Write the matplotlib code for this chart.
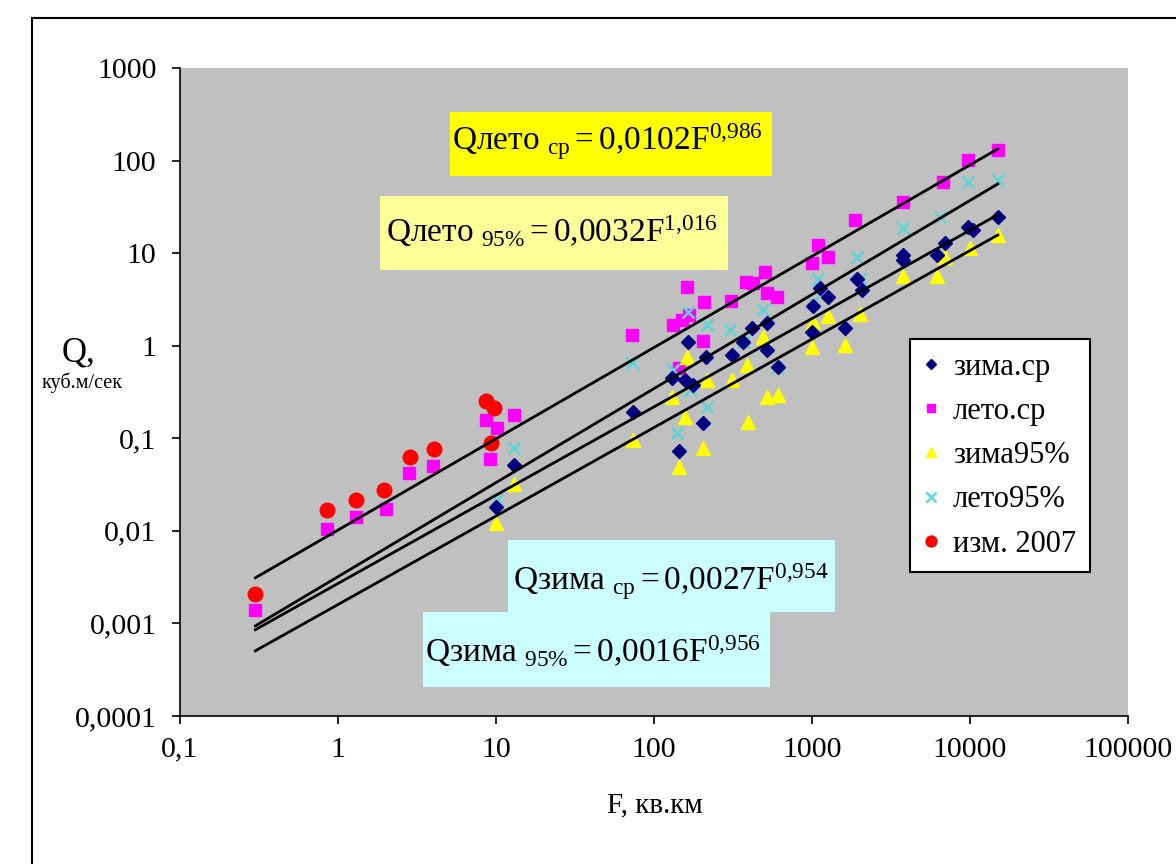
import matplotlib
matplotlib.use('Agg')
import matplotlib.pyplot as plt
from matplotlib.patches import Rectangle

plt.rcParams['font.family'] = ['Liberation Serif', 'DejaVu Serif']
plt.rcParams['mathtext.fontset'] = 'custom'
plt.rcParams['mathtext.rm'] = 'Liberation Serif'
plt.rcParams['mathtext.it'] = 'Liberation Serif:italic'

# data
zima_sr_F = [10, 13, 73.7, 164, 213, 312, 130, 157, 177, 204, 144, 366, 417, 519, 519, 609,
             1000, 1015, 1124, 1262, 1617, 1928, 2071, 3767, 3767, 6180, 6950, 9707, 10450, 15000]
zima_sr_Q = [0.018, 0.052, 0.19, 1.1, 0.76, 0.80, 0.45, 0.43, 0.38, 0.147, 0.072, 1.1, 1.56, 1.77, 0.91, 0.59,
             1.4, 2.7, 4.2, 3.4, 1.56, 5.2, 4.0, 9.6, 8.5, 9.6, 12.9, 19.3, 17.9, 24.7]

leto_sr_F = [0.3, 0.85, 1.3, 2.0, 2.8, 4.0, 8.6, 10.1, 9.2, 13, 72.6, 162, 207, 167, 132, 150, 204, 144,
             307, 382, 519, 600, 505, 423, 1000, 1091, 1262, 1872, 3767, 6750, 9707, 15000]
leto_sr_Q = [0.0014, 0.0105, 0.0142, 0.0174, 0.0425, 0.05, 0.159, 0.13, 0.06, 0.18, 1.31, 4.3, 3.0, 2.16, 1.69, 1.91, 1.13, 0.58,
             3.06, 4.9, 3.7, 3.4, 6.3, 4.8, 7.9, 12.3, 9.1, 22.9, 35.9, 59, 102, 131]

zima95_F = [10, 13, 73.7, 204, 144, 394, 519, 609, 157, 130, 216, 312, 388, 490, 162,
            1000, 1015, 1262, 1617, 2014, 3767, 6180, 6950, 10000, 15000]
zima95_Q = [0.0123, 0.032, 0.097, 0.079, 0.049, 0.151, 0.28, 0.296, 0.17, 0.28, 0.43, 0.43, 0.62, 1.25, 0.76,
            0.98, 1.8, 2.1, 1.03, 2.2, 5.6, 5.6, 9.1, 11.4, 15.8]

leto95_F = [10.1, 13, 72.6, 164, 216, 303, 132, 140, 216, 490, 600, 366, 1015, 169,
            1091, 1928, 2014, 3767, 6456, 9707, 15000]
leto95_Q = [0.0217, 0.079, 0.655, 2.33, 1.69, 1.49, 0.55, 0.115, 0.22, 2.45, 0.58, 1.1, 3.0, 0.335,
            5.2, 9.1, 5.2, 18.8, 24.7, 59, 62]

izm_F = [0.3, 0.85, 1.3, 1.95, 2.86, 4.05, 8.6, 9.7, 9.3]
izm_Q = [0.0021, 0.0166, 0.0217, 0.0279, 0.063, 0.077, 0.25, 0.214, 0.09]

# trend lines Q = a*F^b, from the equations on the chart
fit_a = [0.0102, 0.0032, 0.0027, 0.0016]
fit_b = [0.986, 1.016, 0.954, 0.956]
fit_F = [0.3, 15000]

xticks = [0.1, 1, 10, 100, 1000, 10000, 100000]
xlabels = ['0,1', '1', '10', '100', '1000', '10000', '100000']
yticks = [0.0001, 0.001, 0.01, 0.1, 1, 10, 100, 1000]
ylabels = ['0,0001', '0,001', '0,01', '0,1', '1', '10', '100', '1000']

fig = plt.figure(figsize=(11.76, 8.64), dpi=100)
ax = fig.add_axes([180/1176, 148/864, 948/1176, 648/864])
ax.set_facecolor('#C0C0C0')

ax.plot(zima_sr_F, zima_sr_Q, 'D', color='#000080', ms=7, ls='none', label='зима.ср', zorder=3)
ax.plot(leto_sr_F, leto_sr_Q, 's', color='#FF00FF', ms=8.5, ls='none', label='лето.ср', zorder=2)
ax.plot(zima95_F, zima95_Q, '^', color='#FFFF00', ms=9.5, ls='none', label='зима95%', zorder=2)
ax.plot(leto95_F, leto95_Q, 'x', color='#5CD6D6', ms=9, mew=1.8, ls='none', label='лето95%', zorder=2)
ax.plot(izm_F, izm_Q, 'o', color='#FF0000', ms=10.5, ls='none', label='изм. 2007', zorder=4)

for a, b in zip(fit_a, fit_b):
    ax.plot(fit_F, [a * f ** b for f in fit_F], color='black', lw=2, zorder=5)

ax.set_xscale('log')
ax.set_yscale('log')
ax.set_xlim(0.1, 100000)
ax.set_ylim(0.0001, 1000)
ax.set_xticks(xticks)
ax.set_xticklabels(xlabels)
ax.set_yticks(yticks)
ax.set_yticklabels(ylabels)
ax.minorticks_off()
ax.tick_params(axis='both', direction='out', length=6, width=1.2, labelsize=21.5)
ax.tick_params(axis='y', pad=11)
ax.tick_params(axis='x', pad=9)
ax.spines['top'].set_visible(False)
ax.spines['right'].set_visible(False)
for s in ['left', 'bottom']:
    ax.spines[s].set_linewidth(1.2)

# equation boxes
boxes = [((0.285, 0.833), 0.339, 0.099, '#FFFF00'),
         ((0.211, 0.688), 0.367, 0.114, '#FFFF99'),
         ((0.346, 0.160), 0.345, 0.112, '#CCFFFF'),
         ((0.256, 0.045), 0.366, 0.115, '#CCFFFF')]
for xy, w, h, c in boxes:
    ax.add_patch(Rectangle(xy, w, h, transform=ax.transAxes, facecolor=c,
                           edgecolor='none', zorder=6))

eqs = [(0.287, 0.873, r'$\mathrm{Q}\mathrm{лето}\ {}_{\mathrm{ср}} = 0{,}0102\mathrm{F}^{0{,}986}$'),
       (0.217, 0.731, r'$\mathrm{Q}\mathrm{лето}\ {}_{95\%} = 0{,}0032\mathrm{F}^{1{,}016}$'),
       (0.351, 0.194, r'$\mathrm{Q}\mathrm{зима}\ {}_{\mathrm{ср}} = 0{,}0027\mathrm{F}^{0{,}954}$'),
       (0.258, 0.083, r'$\mathrm{Q}\mathrm{зима}\ {}_{95\%} = 0{,}0016\mathrm{F}^{0{,}956}$')]
for x, y, t in eqs:
    ax.text(x, y, t, transform=ax.transAxes, fontsize=24, ha='left', va='baseline', zorder=7)

leg = ax.legend(loc='upper left', bbox_to_anchor=(0.77, 0.582), fontsize=22, markerscale=0.75,
                handlelength=0.5, handletextpad=0.45, labelspacing=0.5, borderpad=0.45,
                borderaxespad=0, fancybox=False, framealpha=1, edgecolor='black')
leg.get_frame().set_linewidth(1.5)
leg.set_zorder(8)

fig.text(62/1176, 1 - 353/864, 'Q,', fontsize=25, ha='left', va='center')
fig.text(82/1176, 1 - 383/864, 'куб.м/сек', fontsize=14.5, ha='center', va='center')
fig.text(655/1176, 1 - 805/864, 'F, кв.км', fontsize=21, ha='center', va='center')

fig.add_artist(Rectangle((32/1176, -0.5), 2, 1.479, transform=fig.transFigure,
                         fill=False, edgecolor='black', lw=1.5))

plt.savefig('out.png', dpi=100)
